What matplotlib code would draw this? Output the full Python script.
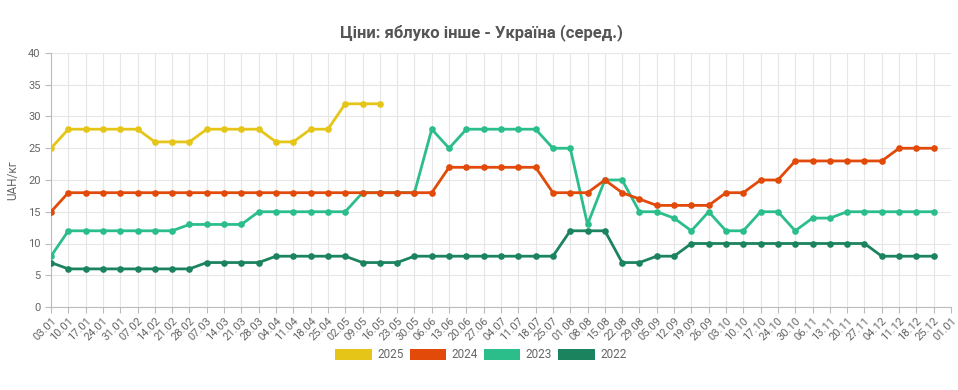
import matplotlib
matplotlib.use("Agg")
import matplotlib.pyplot as plt
from matplotlib.patches import Patch
import numpy as np

plt.rcParams['font.family'] = ['Roboto', 'DejaVu Sans']

dates = ["03.01","10.01","17.01","24.01","31.01","07.02","14.02","21.02","28.02",
         "07.03","14.03","21.03","28.03","04.04","11.04","18.04","25.04","02.05",
         "09.05","16.05","23.05","30.05","06.06","13.06","20.06","27.06","04.07",
         "11.07","18.07","25.07","01.08","08.08","15.08","22.08","29.08","05.09",
         "12.09","19.09","26.09","03.10","10.10","17.10","24.10","30.10","06.11",
         "13.11","20.11","27.11","04.12","11.12","18.12","25.12","01.01"]

y2025 = [25,28,28,28,28,28,26,26,26,28,28,28,28,26,26,28,28,32,32,32]
y2024 = [15,18,18,18,18,18,18,18,18,18,18,18,18,18,18,18,18,18,18,18,18,18,18,
         22,22,22,22,22,22,18,18,18,20,18,17,16,16,16,16,18,18,20,20,23,23,23,
         23,23,23,25,25,25]
y2023 = [8,12,12,12,12,12,12,12,13,13,13,13,15,15,15,15,15,15,18,18,18,18,28,
         25,28,28,28,28,28,25,25,13,20,20,15,15,14,12,15,12,12,15,15,12,14,14,
         15,15,15,15,15,15]
y2022 = [7,6,6,6,6,6,6,6,6,7,7,7,7,8,8,8,8,8,7,7,7,8,8,8,8,8,8,8,8,8,12,12,12,
         7,7,8,8,10,10,10,10,10,10,10,10,10,10,10,8,8,8,8]

series = [("2025", y2025, "#E5C518"),
          ("2024", y2024, "#E24A09"),
          ("2023", y2023, "#2BBE8B"),
          ("2022", y2022, "#1B845E")]

fig = plt.figure(figsize=(9.58, 3.90), dpi=100)
ax = fig.add_axes([51/958, 1-307/390, (951-51)/958, (307-53)/390])

x = np.arange(len(dates))
for name, vals, col in reversed(series):
    ax.plot(x[:len(vals)], vals, color=col, lw=2.0, marker='o', ms=4.8,
            markeredgewidth=0, zorder=3)

ax.set_xlim(0, len(dates)-1)
ax.set_ylim(0, 40)
ax.set_yticks(range(0, 41, 5))
ax.set_xticks(x)
ax.set_xticklabels(dates, rotation=45, ha='right', rotation_mode='anchor')
ax.tick_params(axis='both', colors='#bbbbbb', labelcolor='#666666', labelsize=8,
               length=4, width=0.8)
ax.tick_params(axis='x', pad=2)
ax.grid(True, color='#e6e6e6', lw=0.8)
ax.set_axisbelow(True)
for s in ['top', 'right']:
    ax.spines[s].set_visible(False)
for s in ['left', 'bottom']:
    ax.spines[s].set_color('#bbbbbb')
ax.set_ylabel("UAH/кг", color='#666666', fontsize=8.5, labelpad=6)

fig.text(0.503, 1-33/390, "Ціни: яблуко інше - Україна (серед.)", ha='center',
         va='center', fontsize=12, fontweight='bold', color='#555555')

handles = [Patch(facecolor=c, edgecolor='none', label=n) for n, _, c in series]
fig.legend(handles=handles, loc='center', bbox_to_anchor=(0.502, 1-355/390),
           ncol=4, frameon=False, fontsize=8.5, handlelength=3.1, handleheight=1.1,
           handletextpad=0.45, columnspacing=0.5, labelcolor='#666666')

fig.savefig("out.png", dpi=100)
